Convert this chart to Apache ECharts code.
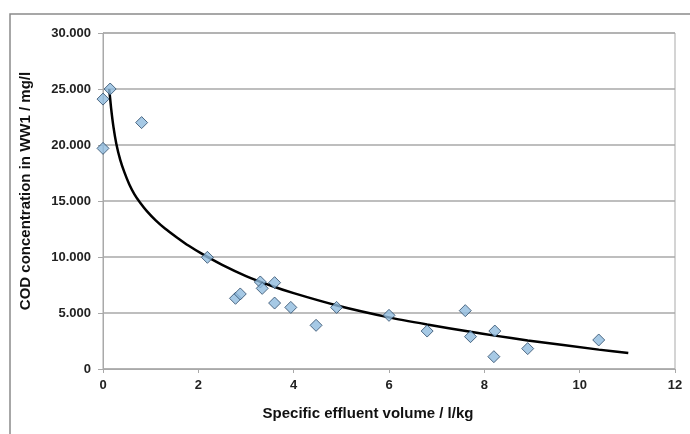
<!DOCTYPE html>
<html>
<head>
<meta charset="utf-8">
<script src="https://cdn.jsdelivr.net/npm/echarts@6/dist/echarts.min.js"></script>
<style>
  html, body { margin: 0; padding: 0; background: #fff; }
  #chart { width: 690px; height: 434px; }
</style>
</head>
<body>
<div id="chart"></div>
<script>
// measured samples (specific effluent volume l/kg, COD mg/l)
var sampleX = [0, 0.15, 0.81, 0, 2.19, 2.78, 2.88, 3.30, 3.34, 3.60, 3.60, 3.94, 4.47, 4.90,
               6.0, 6.80, 7.60, 7.71, 8.22, 8.20, 8.91, 10.40];
var sampleY = [24100, 25000, 22000, 19700, 9970, 6310, 6700, 7770, 7200, 7710, 5890, 5500, 3900, 5500,
               4790, 3390, 5210, 2890, 3390, 1100, 1820, 2590];

// trend curve
var trendX = [0.13, 0.17, 0.22, 0.28, 0.36, 0.45, 0.55, 0.66, 0.78, 0.92, 1.1, 1.3, 1.55, 1.8,
              2.07, 2.5, 3.0, 3.5, 4.0, 4.93, 6.0, 6.8, 7.71, 8.22, 8.91, 10.4, 11.02];
var trendY = [25000, 23300, 21600, 20100, 18700, 17550, 16500, 15600, 14850, 14100, 13300, 12550, 11750, 11000,
              10300, 9300, 8300, 7480, 6770, 5650, 4610, 3980, 3320, 2980, 2550, 1730, 1420];

var xTicks = [0, 2, 4, 6, 8, 10, 12];
var yTickLabels = ['0', '5.000', '10.000', '15.000', '20.000', '25.000', '30.000'];

var font = "'Liberation Sans', Arial, sans-serif";
var gridColor = '#a9a9a9';

var chart = echarts.init(document.getElementById('chart'));

chart.setOption({
  backgroundColor: '#fff',
  animation: false,
  grid: { left: 103, right: 15, top: 33, bottom: 65, show: true, borderColor: gridColor, borderWidth: 1 },
  graphic: [{
    type: 'rect',
    shape: { x: 10, y: 14, width: 720, height: 460 },
    style: { fill: 'none', stroke: '#8a8a8a', lineWidth: 1.5 },
    silent: true
  }],
  xAxis: {
    type: 'value',
    min: xTicks[0],
    max: xTicks[xTicks.length - 1],
    interval: 2,
    name: 'Specific effluent volume / l/kg',
    nameLocation: 'middle',
    nameGap: 37,
    nameTextStyle: { fontFamily: font, fontSize: 15, fontWeight: 'bold', color: '#111', padding: [0, 42, 0, 0] },
    axisLine: { show: true, lineStyle: { color: gridColor, width: 1 } },
    axisTick: { show: true, length: 4, lineStyle: { color: gridColor } },
    axisLabel: { fontFamily: font, fontSize: 13, fontWeight: 'bold', color: '#222', margin: 10 },
    splitLine: { show: false }
  },
  yAxis: {
    type: 'value',
    min: 0,
    max: 30000,
    interval: 5000,
    name: 'COD concentration in WW1 / mg/l',
    nameLocation: 'middle',
    nameGap: 70,
    nameTextStyle: { fontFamily: font, fontSize: 15, fontWeight: 'bold', color: '#111', padding: [0, 0, 0, 20] },
    axisLine: { show: true, lineStyle: { color: gridColor, width: 1 } },
    axisTick: { show: true, length: 5, lineStyle: { color: gridColor } },
    axisLabel: {
      fontFamily: font, fontSize: 13, fontWeight: 'bold', color: '#222', margin: 12,
      formatter: function (v) { return yTickLabels[Math.round(v / 5000)]; }
    },
    splitLine: { show: true, lineStyle: { color: gridColor, width: 1.5 } }
  },
  series: [
    {
      type: 'line',
      data: trendX.map(function (x, i) { return [x, trendY[i]]; }),
      smooth: 0.2,
      showSymbol: false,
      lineStyle: { color: '#000', width: 2.5 },
      z: 2
    },
    {
      type: 'scatter',
      data: sampleX.map(function (x, i) { return [x, sampleY[i]]; }),
      symbol: 'diamond',
      symbolSize: [12, 12],
      itemStyle: { color: '#90bbdf', borderColor: '#2c4a68', borderWidth: 1 },
      z: 3
    }
  ]
});
</script>
</body>
</html>
